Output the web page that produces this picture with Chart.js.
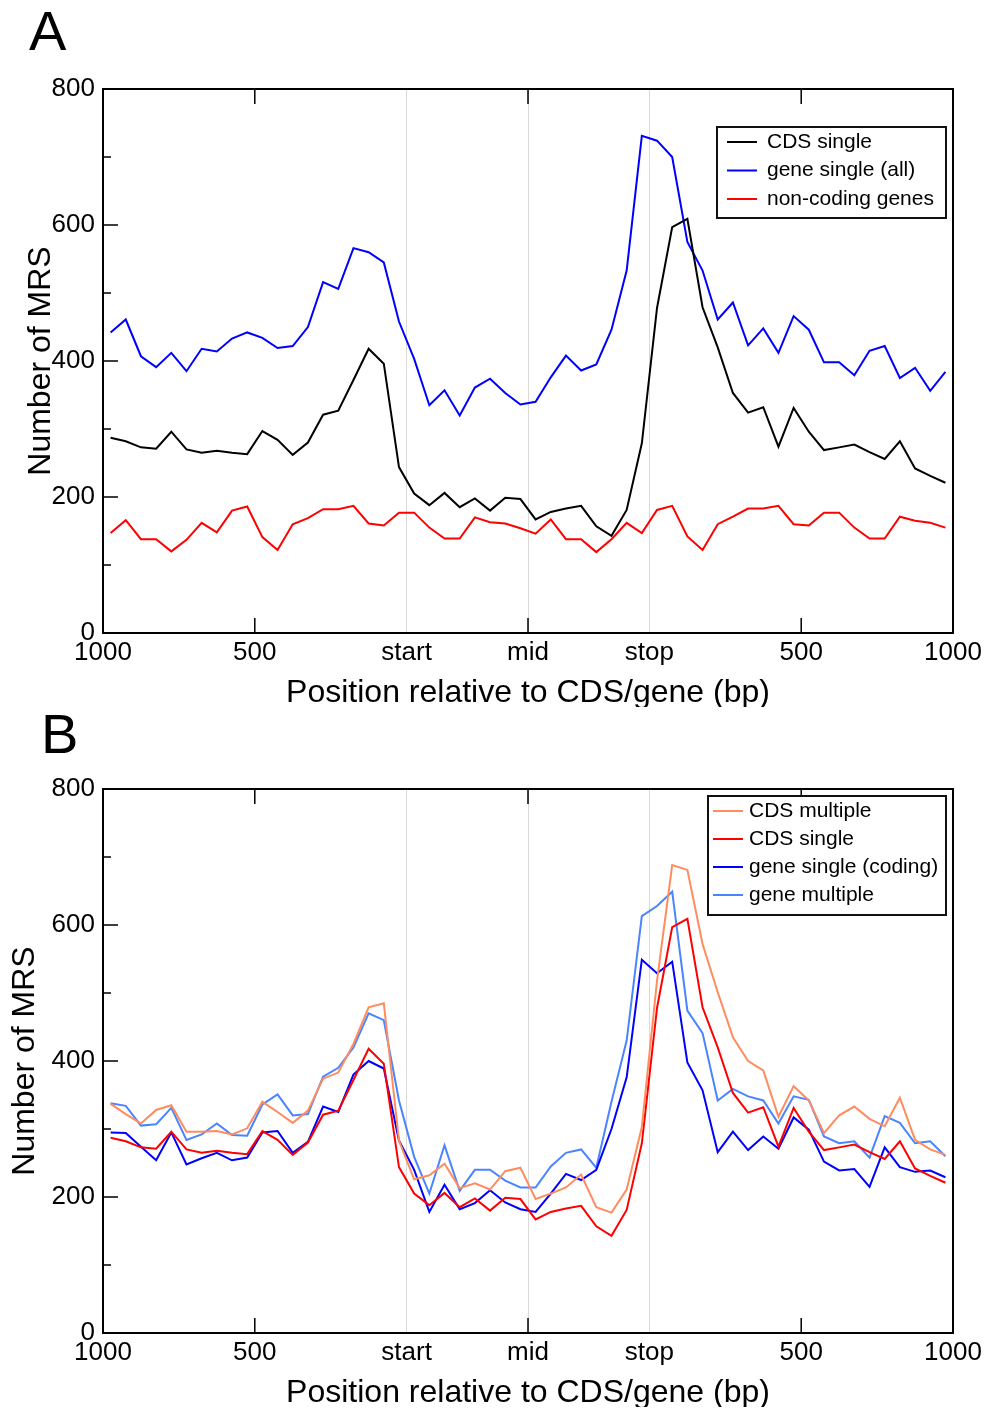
<!DOCTYPE html>
<html>
<head>
<meta charset="utf-8">
<script src="https://cdn.jsdelivr.net/npm/chart.js@4.4.1/dist/chart.umd.min.js"></script>
<style>
    body { margin: 0; background: #fff; }
    .panel { position: absolute; left: 0; }
</style>
</head>
<body>
<canvas id="chartA" class="panel" width="989" height="707" style="top:0"></canvas>
<canvas id="chartB" class="panel" width="989" height="707" style="top:700px"></canvas>
<script>
// x axis: 56 bins of 50 bp (20 upstream, 16 CDS, 20 downstream)
const xTickPos = [0, 10, 20, 28, 36, 46, 56];
const xTickLabels = ['1000', '500', 'start', 'mid', 'stop', '500', '1000'];
const yTickStep = 200;

// CDS single (black in A, red in B)
const cdsSingle = [
    287, 282, 273, 271, 296, 270, 265, 268, 265, 263, 297, 284, 262, 280, 321, 327, 372, 418, 396, 244,
    205, 188, 206, 185, 198, 180, 199, 197, 167, 178, 183, 187, 157, 143, 181, 279,
    478, 597, 609, 479, 420, 353, 324, 332, 274, 331, 296, 269, 273, 277, 266, 256, 282, 242, 231, 221
];
// gene single (all)
const geneSingleAll = [
    442, 461, 407, 391, 412, 385, 418, 414, 433, 442, 434, 419, 422, 450, 516, 506, 566, 560, 545, 458,
    403, 335, 357, 320, 361, 374, 353, 336, 340, 376, 408, 386, 395, 446, 533, 731,
    724, 700, 575, 533, 461, 486, 423, 448, 412, 466, 446, 398, 398, 379, 415, 422, 375, 390, 356, 384
];
// non-coding genes
const nonCoding = [
    147, 166, 138, 138, 120, 137, 162, 148, 180, 186, 141, 122, 160, 169, 182, 182, 187, 161, 158, 177,
    177, 155, 139, 139, 170, 163, 161, 154, 146, 167, 138, 138, 119, 138, 162, 147,
    181, 187, 142, 122, 160, 171, 183, 183, 187, 160, 158, 177, 177, 155, 139, 139, 171, 165, 162, 155
];
// CDS multiple
const cdsMultiple = [
    337, 322, 308, 328, 335, 296, 296, 297, 292, 301, 340, 325, 309, 327, 374, 383, 425, 479, 485, 283,
    226, 232, 249, 213, 220, 211, 238, 243, 197, 205, 214, 233, 185, 177, 211, 303,
    518, 688, 681, 572, 501, 435, 400, 386, 318, 363, 342, 294, 320, 333, 315, 304, 346, 284, 270, 262
];
// gene single (coding)
const geneSingleCoding = [
    295, 294, 274, 254, 295, 248, 257, 265, 254, 258, 295, 297, 265, 281, 333, 325, 380, 400, 389, 283,
    240, 178, 218, 182, 191, 210, 192, 182, 178, 205, 234, 225, 240, 300, 376, 549,
    529, 546, 398, 357, 266, 296, 269, 289, 271, 317, 299, 252, 239, 241, 215, 273, 244, 237, 239, 229
];
// gene multiple
const geneMultiple = [
    338, 334, 305, 307, 331, 284, 292, 308, 291, 290, 336, 351, 320, 322, 377, 390, 420, 470, 460, 342,
    259, 205, 276, 209, 240, 240, 224, 214, 214, 245, 265, 270, 243, 340, 430, 613,
    628, 649, 474, 441, 342, 359, 348, 342, 308, 348, 343, 289, 279, 282, 258, 319, 309, 279, 282, 260
];

const FONT = "'Liberation Sans', Arial, Helvetica, sans-serif";

// each value sits at the centre of its bin
function toPoints(values) {
    return values.map((v, i) => ({ x: i + 0.5, y: v }));
}

function line(label, values, color) {
    return {
        label: label,
        data: toPoints(values),
        borderColor: color,
        borderWidth: 2,
        pointRadius: 0,
        tension: 0,
        fill: false,
    };
}

// box with inward ticks
const framePlugin = {
    id: 'frame',
    afterDatasetsDraw(chart) {
        const { ctx, chartArea: a, scales: { x, y } } = chart;
        ctx.save();
        ctx.strokeStyle = '#000';
        ctx.lineWidth = 1.5;
        ctx.beginPath();
        for (let v = 0; v <= 800; v += 100) {
            const py = y.getPixelForValue(v);
            const len = v % 200 === 0 ? 15 : 8;
            ctx.moveTo(a.left, py);
            ctx.lineTo(a.left + len, py);
        }
        [10, 28, 46].forEach(v => {
            const px = x.getPixelForValue(v);
            ctx.moveTo(px, a.bottom);
            ctx.lineTo(px, a.bottom - 15);
            ctx.moveTo(px, a.top);
            ctx.lineTo(px, a.top + 15);
        });
        ctx.stroke();
        ctx.lineWidth = 2;
        ctx.strokeRect(a.left, a.top, a.right - a.left, a.bottom - a.top);
        ctx.restore();
    }
};

// legend box inside the plot + panel letter
const boxLegendPlugin = {
    id: 'boxLegend',
    afterDraw(chart, args, opts) {
        const ctx = chart.ctx;
        ctx.save();
        ctx.fillStyle = '#fff';
        ctx.fillRect(opts.left, opts.top, opts.width, opts.height);
        ctx.strokeStyle = '#111';
        ctx.lineWidth = 2;
        ctx.strokeRect(opts.left, opts.top, opts.width, opts.height);
        ctx.font = '21px ' + FONT;
        ctx.textBaseline = 'middle';
        chart.data.datasets.forEach((ds, i) => {
            const yy = opts.firstRow + i * opts.rowGap;
            ctx.strokeStyle = ds.borderColor;
            ctx.lineWidth = 2;
            ctx.beginPath();
            ctx.moveTo(opts.lineX, yy);
            ctx.lineTo(opts.lineX + 30, yy);
            ctx.stroke();
            ctx.fillStyle = '#000';
            ctx.fillText(ds.label, opts.textX, yy);
        });
        // panel letter
        ctx.font = '56px ' + FONT;
        ctx.textBaseline = 'alphabetic';
        ctx.fillText(opts.letter, opts.letterX, opts.letterY);
        ctx.restore();
    }
};

function makeOptions(legendOpts, yTitlePad) {
    return {
        responsive: false,
        animation: false,
        devicePixelRatio: 1,
        layout: { padding: { top: 89, right: 36, bottom: 0, left: 0 } },
        plugins: {
            legend: { display: false },
            tooltip: { enabled: false },
            boxLegend: legendOpts,
        },
        scales: {
            x: {
                type: 'linear',
                min: 0,
                max: 56,
                afterBuildTicks: scale => {
                    scale.ticks = xTickPos.map(v => ({ value: v }));
                },
                afterFit: scale => {
                    scale.height = 74;
                    scale.paddingLeft = 0;
                    scale.paddingRight = 0;
                },
                ticks: {
                    autoSkip: false,
                    maxRotation: 0,
                    padding: 4,
                    color: '#000',
                    font: { family: FONT, size: 26 },
                    callback: (value, index) => xTickLabels[index],
                },
                grid: {
                    drawTicks: false,
                    lineWidth: 1,
                    color: ctx => [20, 28, 36].includes(ctx.tick.value) ? '#d9d9d9' : 'rgba(0,0,0,0)',
                },
                border: { display: false },
                title: {
                    display: true,
                    text: 'Position relative to CDS/gene (bp)',
                    color: '#000',
                    font: { family: FONT, size: 32, lineHeight: 1 },
                    padding: { top: 0, bottom: -2 },
                },
            },
            y: {
                min: 0,
                max: 800,
                afterFit: scale => {
                    scale.width = 103;
                    scale.paddingTop = 0;
                    scale.paddingBottom = 0;
                },
                ticks: {
                    stepSize: yTickStep,
                    padding: 8,
                    color: '#000',
                    font: { family: FONT, size: 26 },
                },
                grid: { display: false, drawTicks: false },
                border: { display: false },
                title: {
                    display: true,
                    text: 'Number of MRS',
                    color: '#000',
                    font: { family: FONT, size: 32, lineHeight: 1 },
                    padding: { top: yTitlePad, bottom: 0 },
                },
            },
        },
    };
}

// panel A
new Chart(document.getElementById('chartA'), {
    type: 'line',
    data: {
        datasets: [
            line('CDS single', cdsSingle, '#000000'),
            line('gene single (all)', geneSingleAll, '#0000ff'),
            line('non-coding genes', nonCoding, '#ff0000'),
        ],
    },
    options: makeOptions({
        left: 717, top: 127, width: 229, height: 91,
        firstRow: 142, rowGap: 28.5, lineX: 727, textX: 767,
        letter: 'A', letterX: 29, letterY: 50,
    }, 25),
    plugins: [framePlugin, boxLegendPlugin],
});

// panel B
new Chart(document.getElementById('chartB'), {
    type: 'line',
    data: {
        datasets: [
            line('CDS multiple', cdsMultiple, '#ff8c5f'),
            line('CDS single', cdsSingle, '#ff0000'),
            line('gene single (coding)', geneSingleCoding, '#0000ff'),
            line('gene multiple', geneMultiple, '#4b84ff'),
        ],
    },
    options: makeOptions({
        left: 708, top: 96, width: 238, height: 119,
        firstRow: 111, rowGap: 28, lineX: 713, textX: 749,
        letter: 'B', letterX: 41, letterY: 53,
    }, 9),
    plugins: [framePlugin, boxLegendPlugin],
});
</script>
</body>
</html>
